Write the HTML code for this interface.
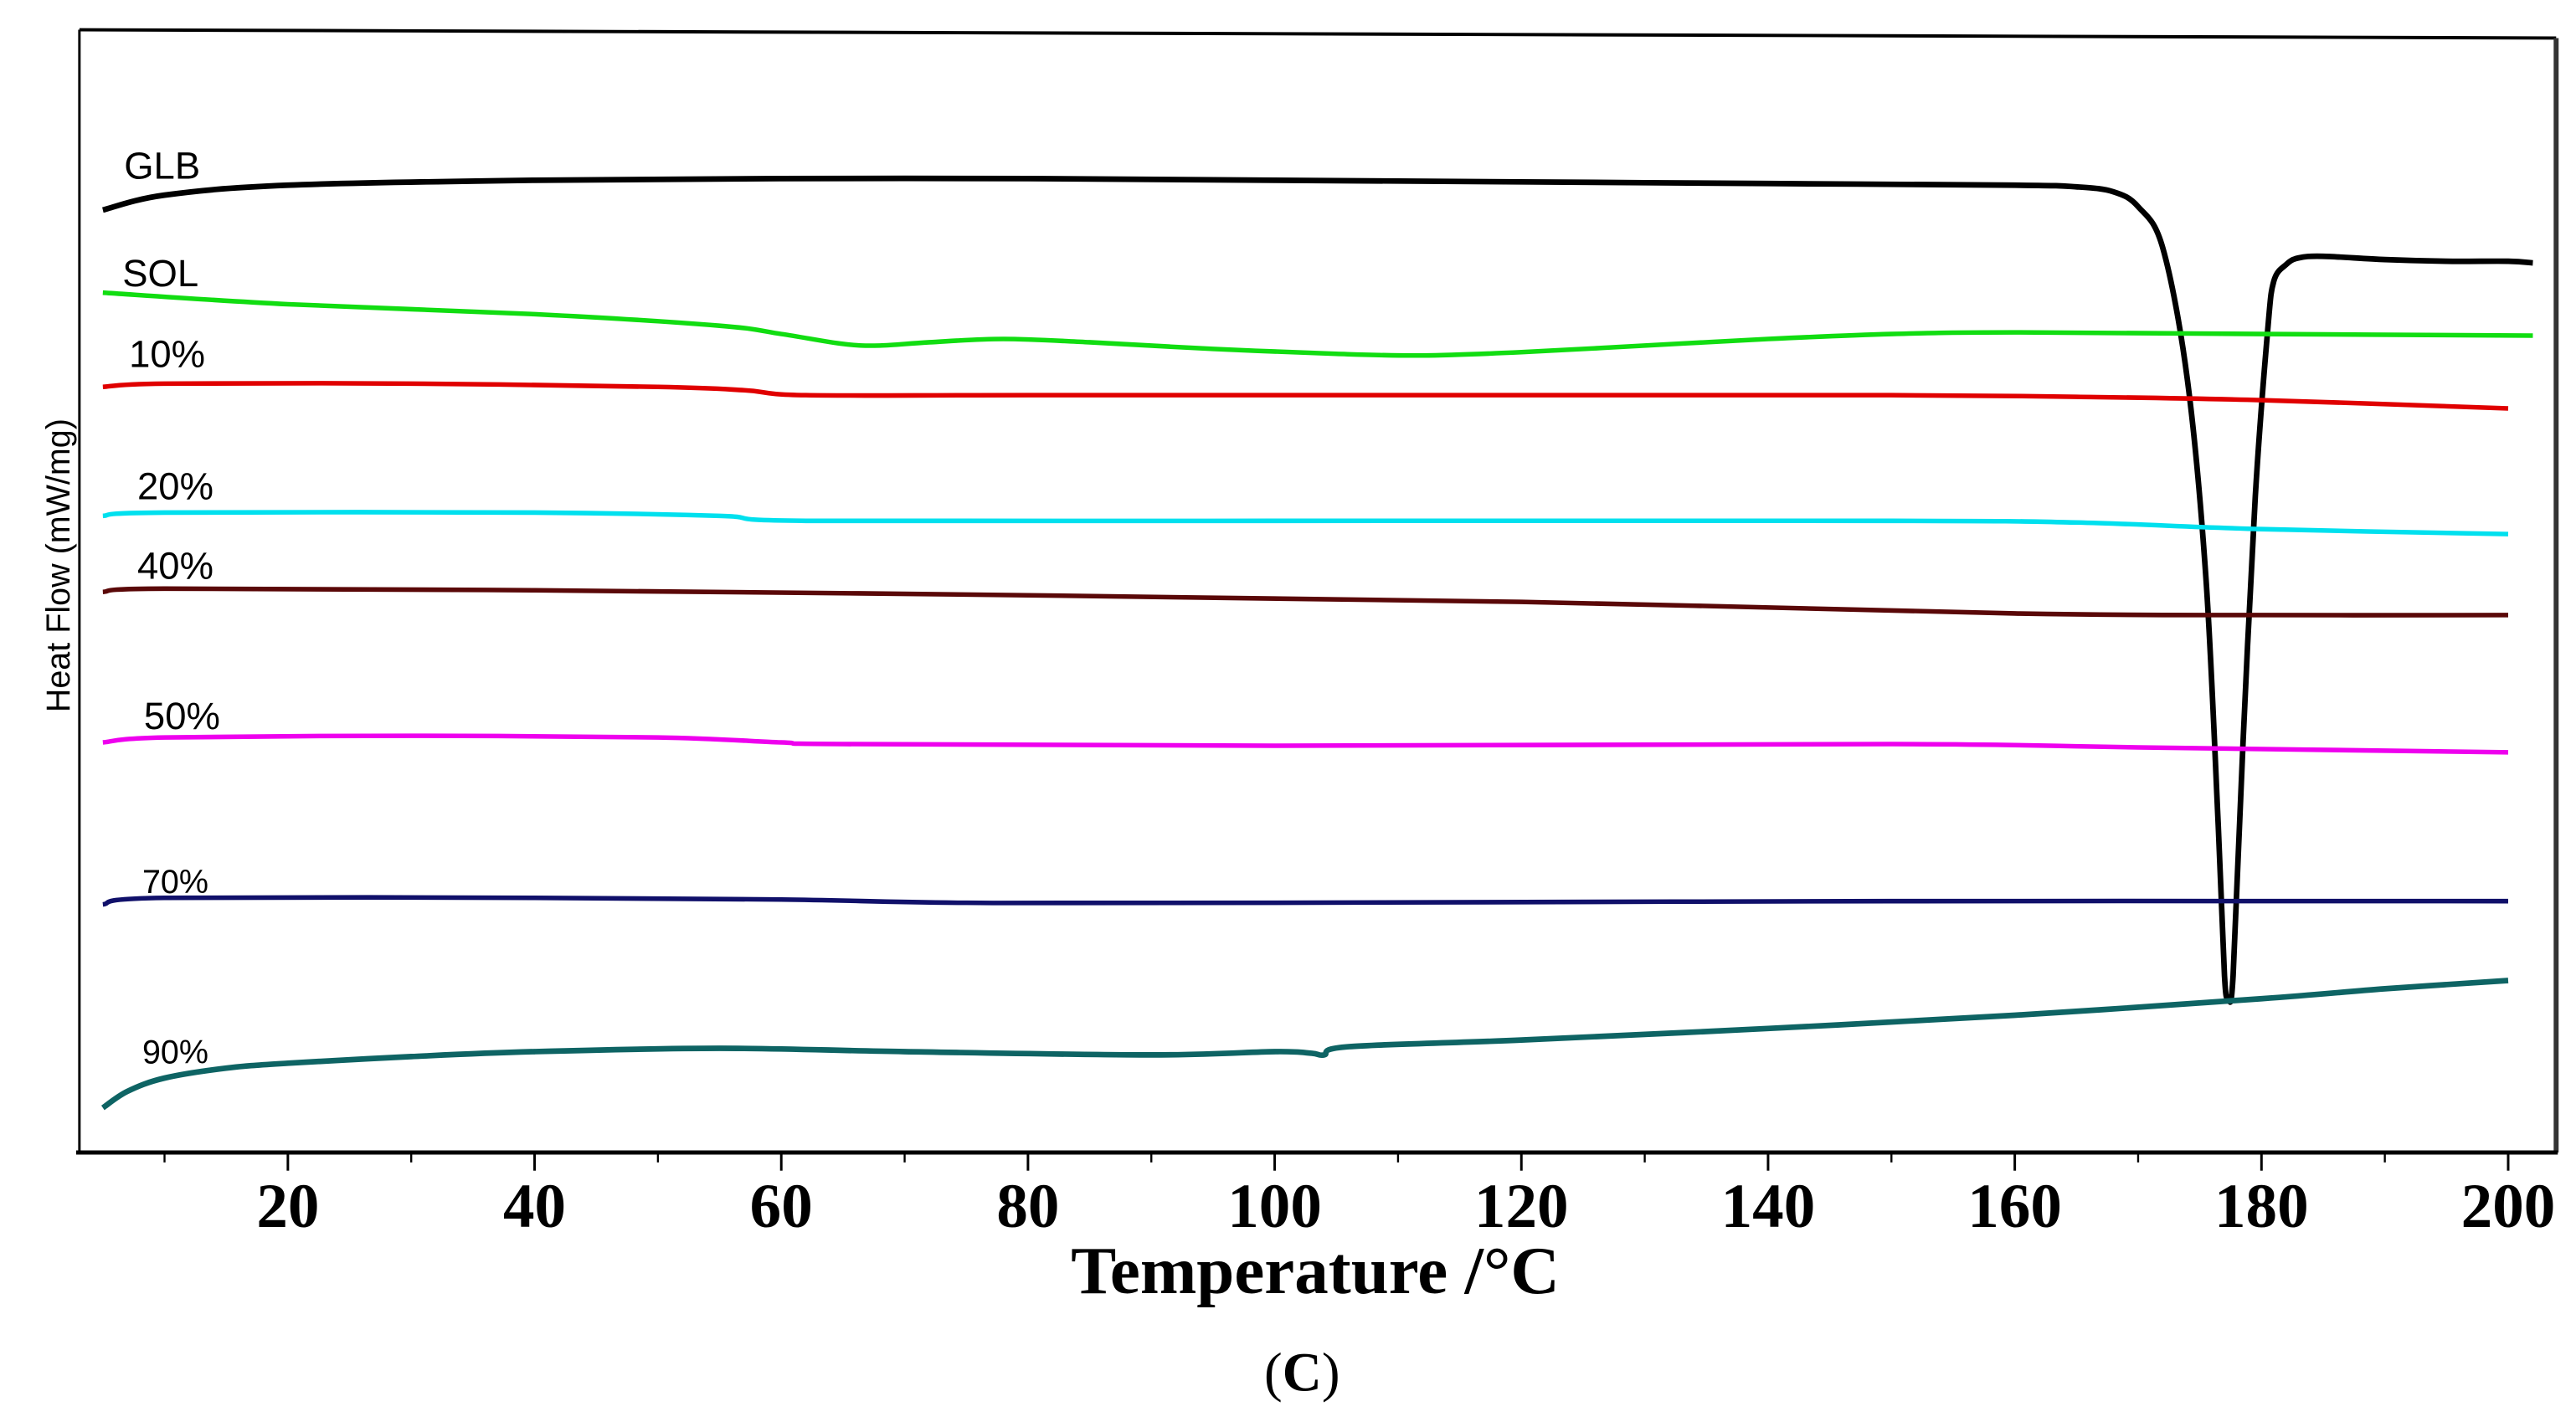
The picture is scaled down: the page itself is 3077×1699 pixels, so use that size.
<!DOCTYPE html>
<html><head><meta charset="utf-8"><style>
html,body{margin:0;padding:0;background:#fff;}
svg{display:block;}
</style></head><body>
<svg id="chart" width="3077" height="1699" viewBox="0 0 1557 860" preserveAspectRatio="none" xmlns="http://www.w3.org/2000/svg">
<g id="frame">
<line x1="48" y1="18" x2="1545" y2="23" stroke="#000" stroke-width="2"/>
<line x1="48" y1="18" x2="48" y2="697" stroke="#000" stroke-width="1.5"/>
<line x1="1545" y1="23" x2="1545" y2="697" stroke="#333" stroke-width="3"/>
<line x1="46" y1="697" x2="1546" y2="697" stroke="#000" stroke-width="2.5"/>
</g>
<g id="ticks"></g>
<g id="series"></g>
<g id="labels"></g>
<text x="795" y="782" text-anchor="middle" font-family="Liberation Serif, serif" font-weight="bold" font-size="41">Temperature /°C</text>
<text x="787" y="841" text-anchor="middle" font-family="Liberation Serif, serif" font-size="33">(<tspan font-weight="bold">C</tspan>)</text>
<text transform="translate(42,342) rotate(-90)" text-anchor="middle" font-family="Liberation Sans, sans-serif" font-size="20">Heat Flow (mW/mg)</text>
</svg>
<script>
const xTicks = [20,40,60,80,100,120,140,160,180,200];
const minorTicks = [10,30,50,70,90,110,130,150,170,190];
const seriesNames = ["GLB","SOL","10%","20%","40%","50%","70%","90%"];
const seriesColors = ["#000000","#11dd11","#e00000","#00e0ee","#5a0808","#ee00ee","#10106a","#0e6464"];
const glbX = [5,10,20,40,60,80,100,120,140,160,165,168,170,172,174,175.5,176.5,177,177.3,177.7,178.5,179.5,180.5,181,182,183,185,190,195,200,202];
const glbY = [570,579,585,588,589,589,588,587,586,585,584,581,572,547,467,347,197,107,94,107,247,397,497,527,537,541,542,540,539,539,538];
const solX = [5,20,40,55,60,65,68,72,78,85,95,105,112,120,130,140,150,160,180,202];
const solY = [520,513,507,500,495,489,488,490,492,490,486,483,482,484,488,492,495,496,495,494];
const p10X = [5,10,30,50,57,62,80,120,150,165,180,200];
const p10Y = [463,465,465,463,461,458,458,458,458,457,455,450];
const p20X = [5,10,40,55,62,100,150,165,180,200];
const p20Y = [385,387,387,385,382,382,382,381,377,374];
const p40X = [5,10,40,80,120,160,180,200];
const p40Y = [339,341,340,337,333,326,325,325];
const p50X = [5,10,30,50,60,65,100,150,170,200];
const p50Y = [248,251,252,251,248,247,246,247,245,242];
const p70X = [5,10,40,60,75,100,150,200];
const p70Y = [150,154,154,153,151,151,152,152];
const p90X = [5,7,10,15,20,30,40,55,70,90,100,103,104,106,120,140,160,180,190,200];
const p90Y = [27,37,45,51,54,58,61,63,61,59,61,60,59,64,68,75,83,93,99,104];
const labelX = [75,74,78,83,83,87,86,86];
const labelYv = [589,524,475,395,347,256,157,54];

const allX = [glbX,solX,p10X,p20X,p40X,p50X,p70X,p90X];
const allY = [glbY,solY,p10Y,p20Y,p40Y,p50Y,p70Y,p90Y];
const NS = "http://www.w3.org/2000/svg";
function xs(v){ return 174 + (v-20)*7.4556; }
function ys(v){ return 697 - v; }

const tg = document.getElementById('ticks');
xTicks.forEach(t=>{
  const l = document.createElementNS(NS,'line');
  l.setAttribute('x1',xs(t)); l.setAttribute('x2',xs(t));
  l.setAttribute('y1',697); l.setAttribute('y2',708);
  l.setAttribute('stroke','#000'); l.setAttribute('stroke-width','1.5');
  
  
  tg.appendChild(l);
  const tx = document.createElementNS(NS,'text');
  tx.setAttribute('x',xs(t)); tx.setAttribute('y',742);
  tx.setAttribute('text-anchor','middle');
  tx.setAttribute('font-family','Liberation Serif, serif');
  tx.setAttribute('font-weight','bold');
  tx.setAttribute('font-size','38');
  tx.textContent = t;
  
  
  tg.appendChild(tx);
});
minorTicks.forEach(t=>{
  const l = document.createElementNS(NS,'line');
  l.setAttribute('x1',xs(t)); l.setAttribute('x2',xs(t));
  l.setAttribute('y1',697); l.setAttribute('y2',703);
  l.setAttribute('stroke','#000'); l.setAttribute('stroke-width','1.2');
  
  
  tg.appendChild(l);
});

function smoothPath(px,py){
  let d = 'M'+px[0]+','+py[0];
  for(let i=0;i<px.length-1;i++){
    const x0=px[Math.max(i-1,0)], y0=py[Math.max(i-1,0)];
    const x1=px[i], y1=py[i], x2=px[i+1], y2=py[i+1];
    const x3=px[Math.min(i+2,px.length-1)], y3=py[Math.min(i+2,px.length-1)];
    const c1x=x1+(x2-x0)/6, c1y=y1+(y2-y0)/6, c2x=x2-(x3-x1)/6, c2y=y2-(y3-y1)/6;
    d += ' C'+c1x.toFixed(2)+','+c1y.toFixed(2)+' '+c2x.toFixed(2)+','+c2y.toFixed(2)+' '+x2.toFixed(2)+','+y2.toFixed(2);
  }
  return d;
}
const sg = document.getElementById('series');
const lg = document.getElementById('labels');
seriesNames.forEach((n,i)=>{
  const px = allX[i].map(xs), py = allY[i].map(ys);
  const p = document.createElementNS(NS,'path');
  p.setAttribute('d',smoothPath(px,py));
  p.setAttribute('fill','none');
  p.setAttribute('stroke',seriesColors[i]);
  p.setAttribute('stroke-width', i===0 ? '3.4' : (i===7 ? '3.4' : '2.8'));
  p.setAttribute('stroke-linejoin','round');
  
  
  sg.appendChild(p);
  const t = document.createElementNS(NS,'text');
  t.setAttribute('x',labelX[i]); t.setAttribute('y',ys(labelYv[i]));
  t.setAttribute('font-family','Liberation Sans, sans-serif');
  t.setAttribute('font-size', i>=6 ? '20' : '23');
  t.textContent = n;
  
  
  lg.appendChild(t);
});
</script>
</body></html>
